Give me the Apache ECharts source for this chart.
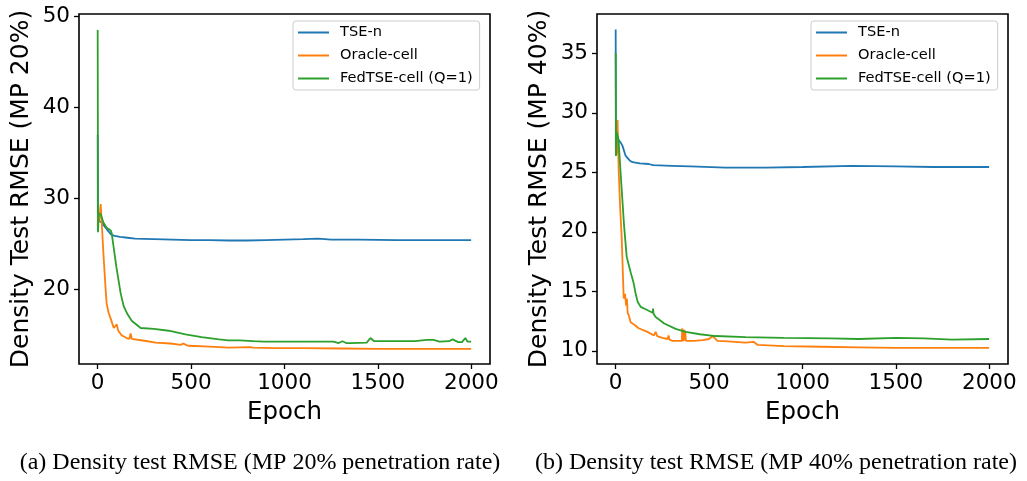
<!DOCTYPE html>
<html>
<head>
<meta charset="utf-8">
<script src="https://cdn.jsdelivr.net/npm/echarts@6/dist/echarts.min.js"></script>
<style>
html,body{margin:0;padding:0;background:#fff;}
#c{width:1027px;height:481px;}
</style>
</head>
<body>
<div id="c"></div>
<script>
// ---- tick labels ----
const xTicks = [0, 500, 1000, 1500, 2000];
const yTicksA = [20, 30, 40, 50];
const yTicksB = [10, 15, 20, 25, 30, 35];
const seriesNames = ['TSE-n', 'Oracle-cell', 'FedTSE-cell (Q=1)'];

// ---- (a) MP 20% ----
const tseA_epoch = [0, 1, 2, 5, 10, 20, 35, 50, 70, 90, 120, 160, 200, 300, 400, 500, 600, 700, 800, 900, 1000, 1100, 1180, 1250, 1400, 1600, 1800, 1999];
const tseA_val   = [37.0, 26.5, 27.6, 27.8, 27.6, 27.4, 27.0, 26.6, 26.1, 25.9, 25.8, 25.7, 25.6, 25.55, 25.5, 25.45, 25.45, 25.4, 25.4, 25.45, 25.5, 25.55, 25.6, 25.5, 25.5, 25.45, 25.45, 25.45];

const oraA_epoch = [0, 3, 8, 16, 24, 32, 43, 48, 58, 70, 86, 96, 102, 110, 128, 155, 170, 176, 183, 192, 250, 310, 390, 444, 458, 465, 472, 487, 600, 700, 815, 823, 832, 950, 1100, 1300, 1500, 1700, 1999];
const oraA_val   = [27.0, 28.3, 27.5, 29.4, 26.5, 23.5, 19.9, 18.5, 17.5, 16.8, 15.8, 15.7, 16.2, 15.5, 15.0, 14.7, 14.6, 15.2, 14.6, 14.6, 14.4, 14.2, 14.1, 13.95, 14.1, 14.3, 13.95, 13.85, 13.75, 13.65, 13.7, 13.85, 13.65, 13.6, 13.6, 13.55, 13.5, 13.5, 13.5];

const fedA_epoch = [0, 2, 5, 16, 30, 48, 70, 75, 100, 123, 139, 160, 182, 230, 300, 380, 470, 556, 650, 700, 760, 834, 890, 1000, 1100, 1262, 1290, 1310, 1330, 1350, 1440, 1460, 1480, 1600, 1700, 1760, 1797, 1830, 1880, 1900, 1930, 1950, 1968, 1980, 1999];
const fedA_val   = [48.5, 26.3, 28.3, 28.3, 27.4, 26.8, 26.5, 26.2, 22.5, 19.6, 18.2, 17.3, 16.6, 15.8, 15.7, 15.5, 15.1, 14.8, 14.55, 14.45, 14.45, 14.35, 14.3, 14.3, 14.3, 14.3, 14.15, 14.35, 14.15, 14.15, 14.2, 14.7, 14.35, 14.35, 14.35, 14.5, 14.5, 14.3, 14.35, 14.55, 14.25, 14.25, 14.7, 14.3, 14.3];

// ---- (b) MP 40% ----
const tseB_epoch = [0, 1, 5, 16, 27, 37, 53, 64, 75, 90, 130, 176, 200, 300, 400, 588, 700, 800, 1000, 1267, 1500, 1700, 1999];
const tseB_val   = [37.0, 26.4, 27.6, 27.7, 27.5, 27.2, 26.4, 26.2, 26.0, 25.85, 25.75, 25.7, 25.6, 25.55, 25.5, 25.4, 25.4, 25.4, 25.45, 25.55, 25.5, 25.45, 25.45];

const oraB_epoch = [0, 4, 10, 16, 24, 32, 43, 50, 56, 60, 64, 70, 80, 100, 123, 170, 205, 214, 222, 250, 278, 283, 288, 305, 354, 356, 360, 364, 368, 372, 376, 420, 465, 500, 519, 545, 600, 695, 740, 748, 760, 900, 1100, 1300, 1500, 1700, 1999];
const oraB_val   = [27.0, 26.5, 29.4, 25.2, 22.0, 19.6, 14.4, 14.8, 13.8, 14.4, 13.2, 13.0, 12.4, 12.2, 11.9, 11.6, 11.3, 11.6, 11.25, 11.1, 11.0, 11.3, 10.95, 10.85, 10.85, 11.9, 10.8, 11.8, 10.85, 11.7, 10.85, 10.85, 10.9, 11.0, 11.25, 10.85, 10.8, 10.7, 10.75, 10.85, 10.5, 10.4, 10.35, 10.3, 10.25, 10.25, 10.25];

const fedB_epoch = [0, 2, 5, 15, 27, 45, 59, 80, 96, 107, 118, 134, 160, 198, 200, 203, 214, 260, 321, 374, 450, 535, 695, 900, 1150, 1155, 1160, 1300, 1503, 1650, 1800, 1999];
const fedB_val   = [35.0, 26.4, 28.4, 27.8, 24.8, 20.5, 17.9, 16.6, 15.7, 14.8, 14.1, 13.7, 13.5, 13.2, 13.55, 13.1, 12.85, 12.3, 11.85, 11.6, 11.4, 11.25, 11.15, 11.1, 11.05, 11.2, 11.0, 11.0, 11.1, 11.05, 10.95, 11.0];

const colors = ['#1f77b4', '#ff7f0e', '#2ca02c'];
const zip = (xs, ys) => xs.map((x, i) => [x, ys[i]]);

const FONT = 'DejaVu Sans';
const plain = v => String(v);

function xAxisCfg(gridIndex) {
  return {
    type: 'value', gridIndex: gridIndex, min: -100, max: 2100,
    name: 'Epoch', nameLocation: 'middle', nameGap: 36,
    nameTextStyle: { fontFamily: FONT, fontSize: 24.5, color: '#000' },
    splitLine: { show: false },
    axisLine: { show: false, onZero: false },
    axisTick: { show: true, length: 5, lineStyle: { color: '#000', width: 1.3 }, customValues: xTicks },
    axisLabel: { fontFamily: FONT, fontSize: 21.5, color: '#000', margin: 8, customValues: xTicks, formatter: plain }
  };
}
function yAxisCfg(gridIndex, min, max, ticks, name) {
  return {
    type: 'value', gridIndex: gridIndex, min: min, max: max,
    name: name, nameLocation: 'middle', nameGap: 45, nameRotate: 90,
    nameTextStyle: { fontFamily: FONT, fontSize: 25, color: '#000' },
    splitLine: { show: false },
    axisLine: { show: false, onZero: false },
    axisTick: { show: true, length: 5, lineStyle: { color: '#000', width: 1.3 }, customValues: ticks },
    axisLabel: { fontFamily: FONT, fontSize: 21.5, color: '#000', margin: 9, customValues: ticks, formatter: plain }
  };
}
function lineSeries(name, idx, data, axisIndex) {
  return {
    type: 'line', name: name, xAxisIndex: axisIndex, yAxisIndex: axisIndex,
    data: data, showSymbol: false, symbol: 'none', animation: false,
    lineStyle: { color: colors[idx], width: 1.8 }, itemStyle: { color: colors[idx] }
  };
}
function legendCfg(left) {
  return {
    left: left, top: 21, orient: 'vertical', data: seriesNames,
    icon: 'rect', itemWidth: 31, itemHeight: 2, itemGap: 8,
    padding: [4, 7, 4, 5],
    borderColor: '#cccccc', borderWidth: 1, borderRadius: 3,
    backgroundColor: 'rgba(255,255,255,0.8)',
    textStyle: { fontFamily: FONT, fontSize: 14.6, color: '#000', lineHeight: 15, padding: [0, 0, 0, 6] },
    selectedMode: false
  };
}

const chart = echarts.init(document.getElementById('c'), null, { renderer: 'canvas' });
chart.setOption({
  animation: false,
  backgroundColor: '#fff',
  grid: [
    { left: 79, top: 14, width: 411, height: 350, show: true, borderColor: '#000', borderWidth: 1.6, backgroundColor: 'transparent' },
    { left: 597, top: 14, width: 411, height: 350, show: true, borderColor: '#000', borderWidth: 1.6, backgroundColor: 'transparent' }
  ],
  xAxis: [xAxisCfg(0), xAxisCfg(1)],
  yAxis: [
    yAxisCfg(0, 11.85, 50.25, yTicksA, 'Density Test RMSE (MP 20%)'),
    yAxisCfg(1, 8.9, 38.3, yTicksB, 'Density Test RMSE (MP 40%)')
  ],
  legend: [legendCfg(293), legendCfg(811)],
  series: [
    lineSeries(seriesNames[0], 0, zip(tseA_epoch, tseA_val), 0),
    lineSeries(seriesNames[1], 1, zip(oraA_epoch, oraA_val), 0),
    lineSeries(seriesNames[2], 2, zip(fedA_epoch, fedA_val), 0),
    lineSeries(seriesNames[0], 0, zip(tseB_epoch, tseB_val), 1),
    lineSeries(seriesNames[1], 1, zip(oraB_epoch, oraB_val), 1),
    lineSeries(seriesNames[2], 2, zip(fedB_epoch, fedB_val), 1)
  ],
  graphic: [
    { type: 'text', x: 260, y: 463, style: { text: '(a) Density test RMSE (MP 20% penetration rate)', font: '24px "Liberation Serif"', fill: '#000', align: 'center', verticalAlign: 'middle' } },
    { type: 'text', x: 776, y: 463, style: { text: '(b) Density test RMSE (MP 40% penetration rate)', font: '24px "Liberation Serif"', fill: '#000', align: 'center', verticalAlign: 'middle' } }
  ]
});
</script>
</body>
</html>
